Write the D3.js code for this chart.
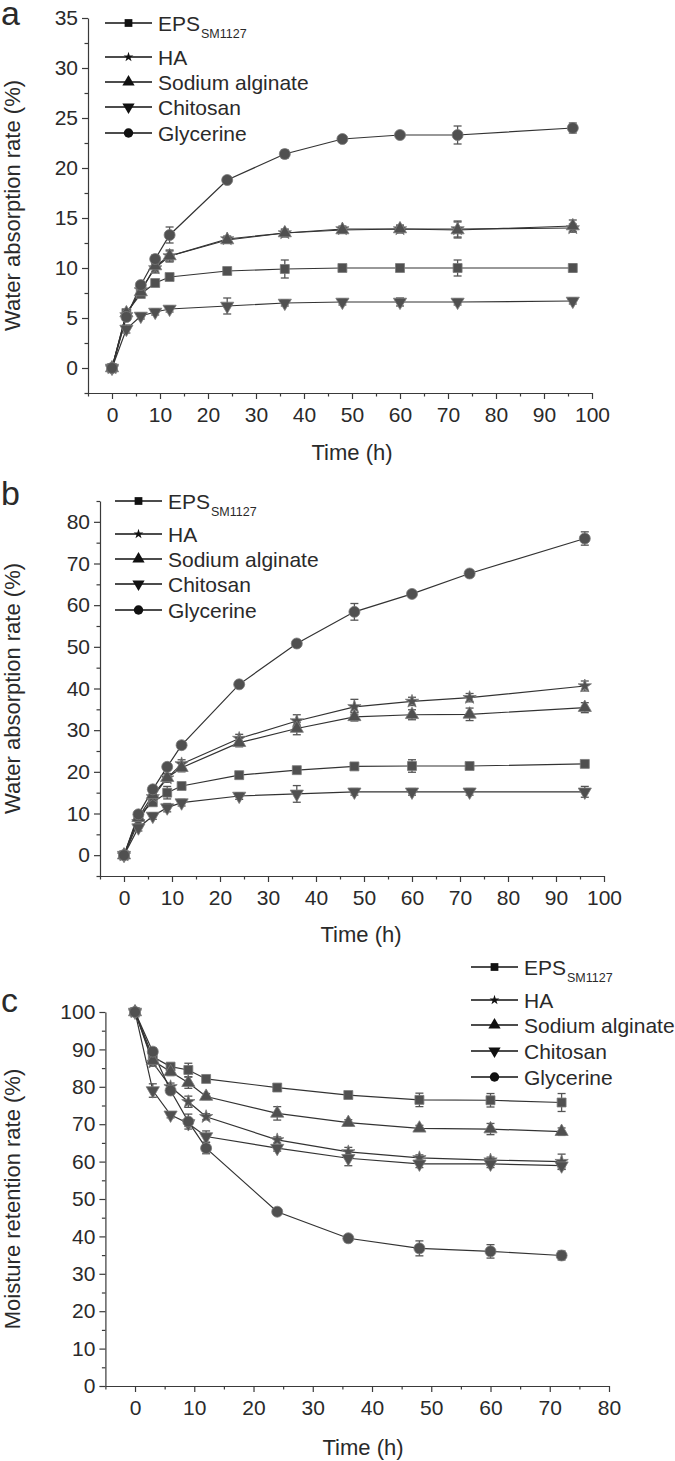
<!DOCTYPE html>
<html>
<head>
<meta charset="utf-8">
<script src="https://cdn.jsdelivr.net/npm/d3@7"></script>
<style>
  html, body { margin: 0; padding: 0; background: #fff; }
  svg { display: block; font-family: "Liberation Sans", Arial, sans-serif; }
</style>
</head>
<body>
<svg id="chart" width="675" height="1461"></svg>
<script>
// ---------------- DATA ----------------
const seriesNames = ["EPS", "HA", "Sodium alginate", "Chitosan", "Glycerine"];
const timesAB = [0, 3, 6, 9, 12, 24, 36, 48, 60, 72, 96];
const timesC  = [0, 3, 6, 9, 12, 24, 36, 48, 60, 72];

// Panel a: water absorption rate (%)
const a_EPS = [0, 5.5, 7.4, 8.5, 9.1, 9.7, 9.9, 10.0, 10.0, 10.0, 10.0];
const a_HA  = [0, 5.3, 7.8, 10.0, 11.2, 12.9, 13.5, 13.9, 13.9, 13.9, 14.0];
const a_SA  = [0, 5.5, 7.6, 10.2, 11.2, 12.8, 13.5, 13.8, 13.9, 13.8, 14.2];
const a_CH  = [0, 3.9, 5.2, 5.6, 5.9, 6.2, 6.5, 6.6, 6.6, 6.6, 6.7];
const a_GL  = [0, 5.1, 8.3, 10.9, 13.3, 18.8, 21.4, 22.9, 23.3, 23.3, 24.0];
const a_EPS_err = [0, 0.3, 0.3, 0.3, 0.3, 0.3, 0.9, 0.2, 0.2, 0.8, 0.4];
const a_HA_err  = [0, 0.3, 0.4, 0.5, 0.5, 0.3, 0.4, 0.3, 0.3, 0.8, 0.4];
const a_SA_err  = [0, 0.3, 0.3, 0.6, 0.6, 0.3, 0.3, 0.3, 0.4, 0.8, 0.6];
const a_CH_err  = [0, 0.4, 0.3, 0.3, 0.3, 0.8, 0.3, 0.3, 0.4, 0.3, 0.3];
const a_GL_err  = [0, 0.3, 0.3, 0.4, 0.8, 0.2, 0.4, 0.2, 0.3, 0.9, 0.5];

// Panel b: water absorption rate (%)
const b_EPS = [0, 9.4, 12.7, 15.0, 16.6, 19.2, 20.4, 21.3, 21.4, 21.4, 21.9];
const b_HA  = [0, 8.0, 14.0, 18.5, 21.9, 28.0, 32.2, 35.6, 36.9, 37.8, 40.6];
const b_SA  = [0, 9.0, 14.5, 18.6, 21.0, 27.0, 30.4, 33.2, 33.7, 33.8, 35.4];
const b_CH  = [0, 6.6, 9.4, 11.4, 12.6, 14.2, 14.7, 15.2, 15.2, 15.2, 15.2];
const b_GL  = [0, 9.8, 15.8, 21.2, 26.4, 41.0, 50.8, 58.4, 62.7, 67.6, 76.0];
const b_EPS_err = [0, 0.8, 0.8, 1.5, 0.6, 0.6, 0.6, 0.6, 1.5, 0.6, 0.6];
const b_HA_err  = [0, 0.8, 0.8, 1.0, 1.0, 1.0, 1.5, 1.8, 1.0, 1.0, 1.2];
const b_SA_err  = [0, 0.8, 0.8, 1.0, 1.0, 1.0, 1.5, 1.0, 1.2, 1.5, 1.2];
const b_CH_err  = [0, 0.8, 0.8, 1.0, 0.8, 0.8, 2.0, 0.8, 0.8, 0.8, 1.3];
const b_GL_err  = [0, 0.8, 0.8, 0.8, 0.8, 0.6, 0.6, 2.0, 0.6, 0.6, 1.6];

// Panel c: moisture retention rate (%)
const c_EPS = [100, 88.0, 85.4, 84.5, 82.1, 79.8, 77.8, 76.5, 76.4, 75.8];
const c_HA  = [100, 86.5, 80.0, 76.0, 72.0, 65.8, 62.6, 61.0, 60.4, 60.0];
const c_SA  = [100, 87.0, 84.0, 81.1, 77.4, 72.9, 70.4, 68.9, 68.7, 68.0];
const c_CH  = [100, 79.0, 72.5, 70.2, 66.7, 63.6, 60.9, 59.4, 59.4, 58.9];
const c_GL  = [100, 89.4, 79.0, 70.7, 63.6, 46.6, 39.5, 36.8, 36.0, 34.9];
const c_EPS_err = [0, 1.0, 0.8, 1.8, 0.8, 0.8, 0.8, 1.8, 1.8, 2.4];
const c_HA_err  = [0, 1.0, 1.0, 1.5, 0.8, 0.8, 1.2, 0.8, 0.8, 2.0];
const c_SA_err  = [0, 1.0, 1.0, 1.5, 0.8, 1.8, 0.8, 0.8, 1.5, 1.0];
const c_CH_err  = [0, 1.8, 0.8, 0.8, 1.5, 0.8, 2.0, 1.0, 1.0, 1.0];
const c_GL_err  = [0, 1.0, 0.8, 2.0, 1.5, 0.8, 0.6, 2.0, 1.8, 1.2];

// Tick values
const xTicksAB = [0, 10, 20, 30, 40, 50, 60, 70, 80, 90, 100];
const xTicksC  = [0, 10, 20, 30, 40, 50, 60, 70, 80];
const yTicksA  = [0, 5, 10, 15, 20, 25, 30, 35];
const yTicksB  = [0, 10, 20, 30, 40, 50, 60, 70, 80];
const yTicksC  = [0, 10, 20, 30, 40, 50, 60, 70, 80, 90, 100];

// ---------------- DRAWING ----------------
const svg = d3.select("#chart");
const FONT = "'Liberation Sans', Arial, sans-serif";
const symbolTypes = [d3.symbolSquare, d3.symbolStar, d3.symbolTriangle, d3.symbolTriangle, d3.symbolCircle];
const symbolRot   = [0, 0, 0, 180, 0];
const symbolSizes = [80, 55, 75, 75, 95];
const legendSizes = [60, 30, 65, 65, 70];

function range(a, b, s) { const r = []; for (let v = a; v <= b + 1e-9; v += s) r.push(+v.toFixed(4)); return r; }

function drawPanel(p) {
  const g = svg.append("g");
  const x = d3.scaleLinear().domain(p.xDomain).range(p.xRange);
  const y = d3.scaleLinear().domain(p.yDomain).range(p.yRange);

  const xMinor = range(p.xDomain[0], p.xDomain[1], p.xMinorStep).filter(v => !p.xTicks.includes(v));
  const yMinor = range(p.yDomain[0], p.yDomain[1], p.yMinorStep).filter(v => !p.yTicks.includes(v));

  const xAxisG = g.append("g").attr("transform", `translate(0,${p.yRange[0]})`);
  xAxisG.call(d3.axisBottom(x).tickValues(p.xTicks).tickSize(6).tickSizeOuter(0).tickPadding(8).tickFormat(d3.format("d")));
  xAxisG.append("g").call(d3.axisBottom(x).tickValues(xMinor).tickSize(3.5).tickSizeOuter(0).tickFormat(""))
    .select(".domain").remove();

  const yAxisG = g.append("g").attr("transform", `translate(${p.xRange[0]},0)`);
  yAxisG.call(d3.axisLeft(y).tickValues(p.yTicks).tickSize(6).tickSizeOuter(0).tickPadding(4).tickFormat(d3.format("d")));
  yAxisG.append("g").call(d3.axisLeft(y).tickValues(yMinor).tickSize(3.5).tickSizeOuter(0).tickFormat(""))
    .select(".domain").remove();

  g.selectAll(".domain, .tick line").attr("stroke", "#3a3a3a").attr("stroke-width", 1.2);
  g.selectAll(".tick text").attr("font-family", FONT).attr("font-size", 21).attr("fill", "#2a2a2a");

  g.append("text").attr("x", p.xTitleX).attr("y", p.xTitleY).attr("text-anchor", "middle")
    .attr("font-family", FONT).attr("font-size", 22).attr("fill", "#2a2a2a").text("Time (h)");
  const yc = (p.yRange[0] + p.yRange[1]) / 2;
  g.append("text").attr("transform", `translate(${p.yTitleX},${yc}) rotate(-90)`).attr("text-anchor", "middle")
    .attr("font-family", FONT).attr("font-size", 22).attr("fill", "#2a2a2a").text(p.yTitle);

  g.append("text").attr("x", 1).attr("y", p.letterY).attr("font-family", FONT).attr("font-size", 34)
    .attr("fill", "#2a2a2a").text(p.letter);

  p.series.forEach((s, i) => {
    const pts = p.times.map((t, k) => ({ t, v: s.values[k], e: s.errors[k] }));
    const sg = g.append("g");
    sg.append("path").datum(pts)
      .attr("d", d3.line().x(d => x(d.t)).y(d => y(d.v)))
      .attr("fill", "none").attr("stroke", "#333").attr("stroke-width", 1.2);
    const eb = sg.selectAll(".eb").data(pts.filter(d => d.e > 0)).enter().append("g")
      .attr("stroke", "#555").attr("stroke-width", 1.3);
    eb.append("line").attr("x1", d => x(d.t)).attr("x2", d => x(d.t))
      .attr("y1", d => y(d.v - d.e)).attr("y2", d => y(d.v + d.e));
    eb.append("line").attr("x1", d => x(d.t) - 4).attr("x2", d => x(d.t) + 4)
      .attr("y1", d => y(d.v - d.e)).attr("y2", d => y(d.v - d.e));
    eb.append("line").attr("x1", d => x(d.t) - 4).attr("x2", d => x(d.t) + 4)
      .attr("y1", d => y(d.v + d.e)).attr("y2", d => y(d.v + d.e));
  });
  p.series.forEach((s, i) => {
    const pts = p.times.map((t, k) => ({ t, v: s.values[k] }));
    g.append("g").selectAll("path").data(pts).enter().append("path")
      .attr("d", d3.symbol().type(symbolTypes[i]).size(symbolSizes[i]))
      .attr("transform", d => `translate(${x(d.t)},${y(d.v)}) rotate(${symbolRot[i]})`)
      .attr("fill", "#505050").attr("stroke", "#7a7a7a").attr("stroke-width", 0.8);
  });

  const lg = g.append("g");
  seriesNames.forEach((name, i) => {
    const ry = p.legendRows[i];
    lg.append("line").attr("x1", p.legendX).attr("x2", p.legendX + 47).attr("y1", ry).attr("y2", ry)
      .attr("stroke", "#111").attr("stroke-width", 1.3);
    lg.append("path").attr("d", d3.symbol().type(symbolTypes[i]).size(legendSizes[i]))
      .attr("transform", `translate(${p.legendX + 23.5},${ry}) rotate(${symbolRot[i]})`).attr("fill", "#111");
    const t = lg.append("text").attr("x", p.legendX + 53).attr("y", ry + 7.5)
      .attr("font-family", FONT).attr("font-size", 21).attr("fill", "#2a2a2a");
    t.append("tspan").text(name);
    if (i === 0) t.append("tspan").attr("font-size", 12.5).attr("dy", 7).attr("dx", 1).text("SM1127");
  });
}

drawPanel({
  letter: "a", letterY: 25,
  times: timesAB,
  xDomain: [-5, 100], xRange: [88, 592], xTicks: xTicksAB, xMinorStep: 5,
  yDomain: [-2.5, 35], yRange: [393, 18], yTicks: yTicksA, yMinorStep: 2.5,
  xTitleX: 352, xTitleY: 460, yTitleX: 20, yTitle: "Water absorption rate (%)",
  legendX: 105, legendRows: [23, 57, 82, 107, 133],
  series: [
    { values: a_EPS, errors: a_EPS_err },
    { values: a_HA, errors: a_HA_err },
    { values: a_SA, errors: a_SA_err },
    { values: a_CH, errors: a_CH_err },
    { values: a_GL, errors: a_GL_err }
  ]
});

drawPanel({
  letter: "b", letterY: 505,
  times: timesAB,
  xDomain: [-5, 100], xRange: [100, 604], xTicks: xTicksAB, xMinorStep: 5,
  yDomain: [-5, 85], yRange: [876, 501], yTicks: yTicksB, yMinorStep: 5,
  xTitleX: 361, xTitleY: 942, yTitleX: 20, yTitle: "Water absorption rate (%)",
  legendX: 115, legendRows: [501, 534, 559, 584, 610],
  series: [
    { values: b_EPS, errors: b_EPS_err },
    { values: b_HA, errors: b_HA_err },
    { values: b_SA, errors: b_SA_err },
    { values: b_CH, errors: b_CH_err },
    { values: b_GL, errors: b_GL_err }
  ]
});

drawPanel({
  letter: "c", letterY: 1012,
  times: timesC,
  xDomain: [-5, 80], xRange: [105.4, 609], xTicks: xTicksC, xMinorStep: 5,
  yDomain: [0, 100], yRange: [1386, 1012], yTicks: yTicksC, yMinorStep: 5,
  xTitleX: 363, xTitleY: 1455, yTitleX: 20, yTitle: "Moisture retention rate (%)",
  legendX: 471, legendRows: [967, 1000, 1025, 1051, 1077],
  series: [
    { values: c_EPS, errors: c_EPS_err },
    { values: c_HA, errors: c_HA_err },
    { values: c_SA, errors: c_SA_err },
    { values: c_CH, errors: c_CH_err },
    { values: c_GL, errors: c_GL_err }
  ]
});
</script>
</body>
</html>
